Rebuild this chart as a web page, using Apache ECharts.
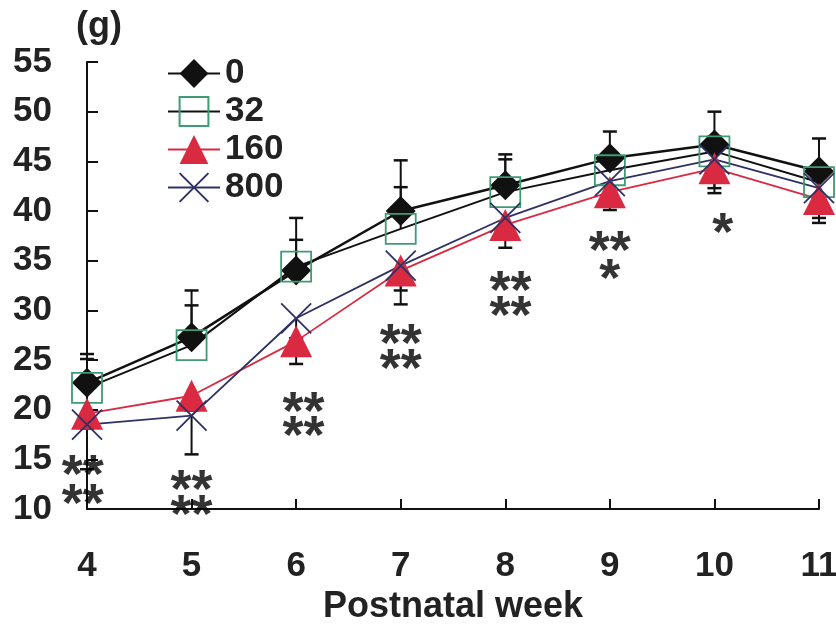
<!DOCTYPE html>
<html><head><meta charset="utf-8">
<script src="https://cdn.jsdelivr.net/npm/echarts@6/dist/echarts.min.js"></script>
<style>html,body{margin:0;padding:0;background:#fff}#c{width:836px;height:629px}</style>
</head><body><div id="c"></div>
<script>
const weeks = [4, 5, 6, 7, 8, 9, 10, 11];
const yTicks = [10, 15, 20, 25, 30, 35, 40, 45, 50, 55];
const seriesNames = ['0', '32', '160', '800'];
const s0   = [22.7, 27.3, 34.0, 40.0, 42.6, 45.3, 46.7, 44.0];
const s32  = [22.2, 26.5, 34.4, 38.2, 41.9, 44.1, 46.0, 42.9];
const s160 = [19.6, 21.4, 26.9, 34.0, 38.6, 41.9, 44.3, 41.2];
const s800 = [18.5, 19.4, 29.2, 34.5, 39.3, 43.0, 45.2, 42.3];
const err0Up     = [2.9, 4.7, 5.3, 5.1, 3.1, 2.7, 3.3, 3.3];
const err32Up    = [2.9, 4.0, 2.7, 4.2, 3.3, 1.5, 1.5, 1.5];
const err160Down = [1.5, 1.5, 2.3, 3.4, 2.3, 1.8, 2.5, 2.4];
const err800Down = [4.5, 3.9, 2.0, 2.5, 2.0, 1.5, 2.9, 3.0];
const starWeek  = [3.96, 3.96, 5.0, 5.0, 6.07, 6.07, 7, 7, 8.05, 8.05, 9, 9, 10.08];
const starValue = [14.55, 11.6, 13.0, 10.5, 20.9, 18.4, 27.7, 25.2, 33.0, 30.5, 37.1, 34.3, 38.9];
const starText  = ['**', '**', '**', '**', '**', '**', '**', '**', '**', '**', '**', '*', '*'];

const FONT = '"Liberation Sans", Arial, sans-serif';
const chart = echarts.init(document.getElementById('c'));

function errData(vals, errs, dir) {
  return weeks.map((w, i) => [w, vals[i], vals[i] + dir * errs[i]]);
}
function renderErr(params, api) {
  const x = api.value(0), y = api.value(1), y2 = api.value(2);
  const p1 = api.coord([x, y]), p2 = api.coord([x, y2]);
  return {
    type: 'group',
    children: [
      { type: 'line', shape: { x1: p1[0], y1: p1[1], x2: p2[0], y2: p2[1] }, style: { stroke: '#111', lineWidth: 2 } },
      { type: 'line', shape: { x1: p2[0] - 7, y1: p2[1], x2: p2[0] + 7, y2: p2[1] }, style: { stroke: '#111', lineWidth: 2.5 } }
    ]
  };
}
const errSeries = [[s0, err0Up, 1], [s32, err32Up, 1], [s160, err160Down, -1], [s800, err800Down, -1]].map(a => ({
  type: 'custom', renderItem: renderErr, data: errData(a[0], a[1], a[2]), z: 1, silent: true, clip: false
}));

chart.setOption({
  animation: false,
  grid: { left: 87, right: 17, top: 62, bottom: 120, outerBoundsMode: 'none', containLabel: false },
  xAxis: {
    type: 'value', min: 4, max: 11, interval: 1,
    name: 'Postnatal week', nameLocation: 'middle', nameGap: 80,
    nameTextStyle: { fontFamily: FONT, fontSize: 36, fontWeight: 'bold', color: '#222' },
    axisLine: { lineStyle: { color: '#111', width: 2 } },
    axisTick: { inside: true, length: 10, lineStyle: { color: '#111', width: 2 } },
    axisLabel: { margin: 40, fontFamily: FONT, fontSize: 35, fontWeight: 'bold', color: '#222' },
    splitLine: { show: false }
  },
  yAxis: {
    type: 'value', min: yTicks[0], max: yTicks[yTicks.length - 1], interval: 5,
    axisLine: { show: true, lineStyle: { color: '#111', width: 2 } },
    axisTick: { show: true, inside: true, length: 11, lineStyle: { color: '#111', width: 2 } },
    axisLabel: { margin: 35, fontFamily: FONT, fontSize: 35, fontWeight: 'bold', color: '#222' },
    splitLine: { show: false }
  },
  legend: {
    data: seriesNames, orient: 'vertical', left: 162, top: 51,
    itemWidth: 52, itemHeight: 36, itemGap: 3,
    textStyle: { fontFamily: FONT, fontSize: 35, fontWeight: 'bold', color: '#222', padding: [0, 0, 0, 0] }
  },
  graphic: [{
    type: 'text', left: 76, top: 9,
    style: { text: '(g)', font: 'bold 36px ' + FONT, fill: '#222' }
  }],
  series: errSeries.concat([
    { name: '0', type: 'line', data: weeks.map((w, i) => [w, s0[i]]), symbol: 'diamond', symbolSize: 30, z: 3, clip: false,
      lineStyle: { color: '#111', width: 2.5 }, itemStyle: { color: '#111' } },
    { name: '32', type: 'line', data: weeks.map((w, i) => [w, s32[i]]), symbol: 'rect', symbolSize: 30, z: 3, clip: false,
      lineStyle: { color: '#111', width: 2 }, itemStyle: { color: 'rgba(0,0,0,0)', borderColor: '#3f9b74', borderWidth: 1.8 } },
    { name: '160', type: 'line', data: weeks.map((w, i) => [w, s160[i]]), symbol: 'triangle', symbolSize: 32, z: 3, clip: false,
      lineStyle: { color: '#d92a42', width: 1.8 }, itemStyle: { color: '#d92a42' } },
    { name: '800', type: 'line', data: weeks.map((w, i) => [w, s800[i]]), symbol: 'path://M0,0L10,10M10,0L0,10', symbolSize: 30, z: 3, clip: false,
      lineStyle: { color: '#2e3163', width: 1.8 }, itemStyle: { color: 'rgba(0,0,0,0)', borderColor: '#2e3163', borderWidth: 1.8 } },
    { type: 'scatter', symbolSize: 0, z: 4, silent: true, clip: false,
      data: starWeek.map((w, i) => ({ value: [w, starValue[i]], label: { formatter: starText[i] } })),
      label: { show: true, position: 'inside', offset: [0, 13], fontFamily: FONT, fontSize: 54, fontWeight: 'bold', color: '#000' } }
  ])
});
</script></body></html>
